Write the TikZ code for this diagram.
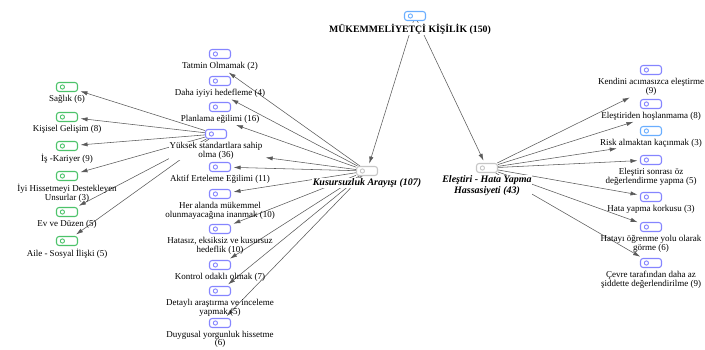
\documentclass[tikz,border=0pt]{standalone}
\usepackage{fontspec}
\setmainfont{Liberation Serif}
\usetikzlibrary{positioning, arrows.meta}

\pgfdeclarelayer{bg}
\pgfsetlayers{bg,main}

\definecolor{codegreen}{HTML}{4CC36A}
\definecolor{codeblue}{HTML}{8585FF}
\definecolor{codesky}{HTML}{6AAEFF}
\definecolor{codegray}{HTML}{C6C6C6}
\definecolor{linkgray}{HTML}{5A5A5A}

\tikzset{
  codeicon/.style={draw=#1, fill=white, line width=1.1pt, rounded corners=2.6pt,
    minimum width=21pt, minimum height=9pt, inner sep=0pt,
    path picture={\draw[#1, line width=0.9pt] ([xshift=-4.6pt]path picture bounding box.center) circle (2.1pt);}},
  codetext/.style={font=\fontsize{9}{9.3}\selectfont, align=center, inner sep=0.5pt},
  hubtext/.style={font=\fontsize{10}{11}\selectfont\bfseries\itshape, align=center, inner sep=0.5pt, fill=white},
  link/.style={-{Latex[length=7pt,width=4.2pt]}, draw=linkgray, line width=0.55pt, shorten >=2.5pt}
}

\begin{document}
\begin{tikzpicture}[x=1pt, y=-1pt]
    \useasboundingbox (0,0) rectangle (705,349);

    % top code and the two main branches
    \node[codeicon=codesky] (root) at (415,16) {};
    \node[hubtext, font=\fontsize{9.8}{11}\selectfont\bfseries, below=2pt of root, xshift=-5pt] (root-t) {MÜKEMMELİYETÇİ KİŞİLİK (150)};
    \node[codeicon=codegray] (kusur) at (367,171) {};
    \node[hubtext, below=2pt of kusur] (kusur-t) {Kusursuzluk Arayışı (107)};
    \node[codeicon=codegray] (elest) at (487,168) {};
    \node[hubtext, below=1.5pt of elest] (elest-t) {Eleştiri - Hata Yapma\\Hassasiyeti (43)};

    % Kusursuzluk Arayisi subcodes
    \node[codeicon=codeblue] (tatmin) at (220,54) {};
    \node[codetext, below=2.5pt of tatmin] (tatmin-t) {Tatmin Olmamak (2)};
    \node[codeicon=codeblue] (daha) at (220,81) {};
    \node[codetext, below=2.5pt of daha] (daha-t) {Daha iyiyi hedefleme (4)};
    \node[codeicon=codeblue] (plan) at (220,107) {};
    \node[codetext, below=2.5pt of plan] (plan-t) {Planlama eğilimi (16)};
    \node[codeicon=codeblue] (yuksek) at (216,134) {};
    \node[codetext, fill=white, below=2.5pt of yuksek] (yuksek-t) {Yüksek standartlara sahip\\olma (36)};
    \node[codeicon=codeblue] (aktif) at (220,167) {};
    \node[codetext, below=2.5pt of aktif] (aktif-t) {Aktif Erteleme Eğilimi (11)};
    \node[codeicon=codeblue] (heralan) at (220,194) {};
    \node[codetext, below=2.5pt of heralan] (heralan-t) {Her alanda mükemmel\\olunmayacağına inanmak (10)};
    \node[codeicon=codeblue] (hatasiz) at (220,229) {};
    \node[codetext, below=2.5pt of hatasiz] (hatasiz-t) {Hatasız, eksiksiz ve kusursuz\\hedeflik (10)};
    \node[codeicon=codeblue] (kontrol) at (220,265) {};
    \node[codetext, below=2.5pt of kontrol] (kontrol-t) {Kontrol odaklı olmak (7)};
    \node[codeicon=codeblue] (detay) at (220,291) {};
    \node[codetext, below=2.5pt of detay] (detay-t) {Detaylı araştırma ve inceleme\\yapmak (5)};
    \node[codeicon=codeblue] (duygu) at (220,323) {};
    \node[codetext, font=\fontsize{9}{8.6}\selectfont, below=2pt of duygu] (duygu-t) {Duygusal yorgunluk hissetme\\(6)};

    % Yuksek standartlar subcodes
    \node[codeicon=codegreen] (saglik) at (67,87) {};
    \node[codetext, below=2.5pt of saglik] (saglik-t) {Sağlık (6)};
    \node[codeicon=codegreen] (kisisel) at (67,117) {};
    \node[codetext, below=2.5pt of kisisel] (kisisel-t) {Kişisel Gelişim (8)};
    \node[codeicon=codegreen] (is) at (67,146) {};
    \node[codetext, below=2.5pt of is] (is-t) {İş -Kariyer (9)};
    \node[codeicon=codegreen] (iyi) at (67,176) {};
    \node[codetext, below=2.5pt of iyi] (iyi-t) {İyi Hissetmeyi Destekleyen\\Unsurlar (3)};
    \node[codeicon=codegreen] (ev) at (67,212) {};
    \node[codetext, below=2.5pt of ev] (ev-t) {Ev ve Düzen (5)};
    \node[codeicon=codegreen] (aile) at (67,241) {};
    \node[codetext, below=2.5pt of aile] (aile-t) {Aile - Sosyal İlişki (5)};

    % Elestiri subcodes
    \node[codeicon=codeblue] (kendini) at (651,70) {};
    \node[codetext, below=2.5pt of kendini] (kendini-t) {Kendini acımasızca eleştirme\\(9)};
    \node[codeicon=codeblue] (hoslan) at (651,104) {};
    \node[codetext, below=2.5pt of hoslan] (hoslan-t) {Eleştiriden hoşlanmama (8)};
    \node[codeicon=codesky] (risk) at (651,131) {};
    \node[codetext, below=2.5pt of risk] (risk-t) {Risk almaktan kaçınmak (3)};
    \node[codeicon=codeblue] (sonrasi) at (651,160) {};
    \node[codetext, below=2.5pt of sonrasi] (sonrasi-t) {Eleştiri sonrası öz\\değerlendirme yapma (5)};
    \node[codeicon=codeblue] (korku) at (651,197) {};
    \node[codetext, below=2.5pt of korku] (korku-t) {Hata yapma korkusu (3)};
    \node[codeicon=codeblue] (ogrenme) at (651,227) {};
    \node[codetext, below=2.5pt of ogrenme] (ogrenme-t) {Hatayı öğrenme yolu olarak\\görme (6)};
    \node[codeicon=codeblue] (cevre) at (651,263) {};
    \node[codetext, below=2.5pt of cevre] (cevre-t) {Çevre tarafından daha az\\şiddette değerlendirilme (9)};

    % links behind the labels
    \begin{pgfonlayer}{bg}
    \draw[link] (root) -- (kusur);
    \draw[link] (root) -- (elest);
    \draw[link] (kusur) -- (tatmin-t);
    \draw[link] (kusur) -- (daha-t);
    \draw[link] (kusur) -- (plan-t);
    \draw[link] (kusur) -- (yuksek-t);
    \draw[link] (kusur) -- (aktif);
    \draw[link] (kusur) -- (heralan);
    \draw[link] (kusur) -- (hatasiz);
    \draw[link] (kusur) -- (kontrol);
    \draw[link] (kusur) -- (detay);
    \draw[link] (kusur) -- (duygu);
    \draw[link] (yuksek) -- (saglik);
    \draw[link] (yuksek) -- (kisisel);
    \draw[link] (yuksek) -- (is);
    \draw[link] (yuksek) -- (iyi);
    \draw[link] (yuksek) -- (ev);
    \draw[link] (yuksek) -- (aile);
    \draw[link] (elest) -- (kendini-t);
    \draw[link] (elest) -- (hoslan-t);
    \draw[link] (elest) -- (risk-t);
    \draw[link] (elest) -- (sonrasi);
    \draw[link] (elest) -- (korku);
    \draw[link] (elest) -- (ogrenme);
    \draw[link] (elest) -- (cevre);
    \end{pgfonlayer}
\end{tikzpicture}
\end{document}
